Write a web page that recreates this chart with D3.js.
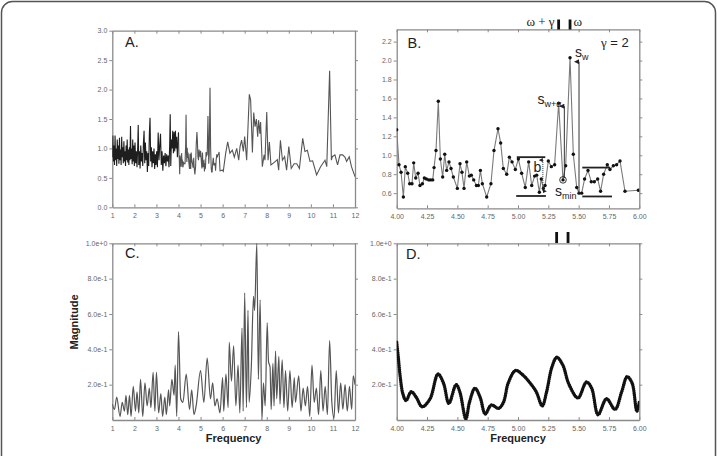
<!DOCTYPE html>
<html><head><meta charset="utf-8">
<script src="https://cdn.jsdelivr.net/npm/d3@7/dist/d3.min.js"></script>
<style>
html,body{margin:0;padding:0;background:#fff;}
svg{display:block;font-family:"Liberation Sans",Arial,sans-serif;}
.tick text{fill:#666;font-size:7px;}
.domain{stroke:#8a8a8a;}
.tick line{stroke:#8a8a8a;}
</style></head>
<body>
<svg id="chart" width="717" height="456"></svg>
<script>
// ---------- DATA ----------
// Panel A, low-frequency part (1-4)
const aLowFreq = [1.000,1.025,1.050,1.075,1.100,1.125,1.150,1.175,1.200,1.225,1.250,1.275,1.300,1.325,1.350,1.375,1.400,1.425,1.450,1.475,1.500,1.525,1.550,1.575,1.600,1.625,1.650,1.675,1.700,1.725,1.750,1.775,1.800,1.825,1.850,1.875,1.900,1.925,1.950,1.975,
 2.000,2.030,2.060,2.090,2.120,2.150,2.175,2.200,2.230,2.260,2.290,2.320,2.350,2.380,2.410,2.440,2.470,2.500,2.530,2.560,2.590,2.620,2.650,2.680,2.710,2.740,2.770,2.800,2.830,2.860,2.890,2.920,2.950,2.980,
 3.010,3.045,3.080,3.115,3.150,3.185,3.220,3.255,3.290,3.325,3.360,3.395,3.430,3.465,3.500,3.535,3.570,3.600,3.625,3.650,3.680,3.710,3.740,3.770,3.800,3.830,3.860,3.890,3.920,3.950,3.975];
const aLowMag = [0.85,1.22,0.78,1.05,0.72,1.22,0.80,1.00,0.70,1.15,0.82,1.05,0.74,1.18,0.80,0.98,0.72,1.20,0.85,1.02,0.75,1.12,0.78,0.95,0.70,1.05,0.80,1.15,0.76,0.98,0.72,1.02,0.80,1.38,0.82,1.00,0.73,1.15,0.78,1.05,
 0.70,1.10,0.75,0.95,0.68,1.00,1.40,0.72,0.95,0.66,1.05,0.78,0.92,0.70,1.08,1.30,0.75,1.10,0.80,0.95,0.60,0.92,0.70,1.25,1.52,0.78,1.02,0.68,0.95,0.75,1.00,0.65,0.90,0.72,
 0.95,0.68,1.27,0.80,1.05,1.25,0.72,0.95,0.62,0.88,0.75,0.92,0.70,0.90,0.78,0.88,0.68,1.05,1.58,0.70,1.15,1.00,1.30,0.92,1.28,0.95,1.30,1.00,1.20,0.85,1.05];
// Panel B (zoom 4-6; also the middle of panel A)
const bFreq = [4.000,4.019,4.036,4.055,4.071,4.091,4.107,4.126,4.140,4.157,4.176,4.192,4.212,4.228,4.245,4.264,4.280,4.297,4.308,4.324,4.343,4.360,4.379,4.396,4.412,4.431,4.448,4.467,4.500,4.522,4.538,4.555,4.577,4.599,4.615,4.635,4.657,4.673,4.690,4.706,4.742,4.777,4.802,4.835,4.857,4.879,4.907,4.929,4.951,4.978,5.003,5.030,5.060,5.088,5.113,5.137,5.154,5.176,5.192,5.209,5.223,5.250,5.275,5.302,5.335,5.371,5.393,5.429,5.456,5.484,5.503,5.525,5.549,5.577,5.604,5.629,5.657,5.681,5.706,5.736,5.758,5.786,5.813,5.841,5.882,5.992];
const bMag = [1.27,0.90,0.82,0.56,0.88,0.81,0.70,0.70,0.92,0.76,0.81,0.68,0.70,0.76,0.75,0.74,0.74,0.74,0.87,1.05,1.57,0.96,0.77,1.01,0.84,0.93,0.86,0.77,0.65,0.91,0.82,0.65,0.93,0.78,0.79,0.74,0.68,0.68,0.84,0.70,0.56,0.70,1.05,1.28,1.13,0.86,0.80,0.98,0.93,0.85,0.96,0.81,0.66,0.93,0.68,0.78,0.79,0.61,0.75,0.65,0.68,0.94,0.88,0.90,1.55,0.74,0.89,2.03,1.01,0.66,0.60,0.60,0.75,0.84,0.72,0.72,0.75,0.62,0.80,0.90,0.85,0.89,0.90,0.94,0.62,0.63];
// Panel A, high-frequency part (6-12)
const aHighFreq = [6.03,6.14,6.23,6.33,6.44,6.53,6.64,6.73,6.79,6.86,6.94,7.00,7.09,7.21,7.27,7.35,7.41,7.47,7.53,7.59,7.63,7.69,7.72,7.80,7.88,7.92,8.00,8.06,8.12,8.19,8.30,8.39,8.48,8.54,8.62,8.71,8.81,8.90,9.00,9.11,9.24,9.36,9.48,9.63,9.73,9.84,9.96,10.08,10.26,10.44,10.64,10.72,10.85,10.93,10.97,11.09,11.21,11.32,11.44,11.55,11.62,11.74,11.84,12.00];
const aHighMag = [0.61,0.92,1.11,0.92,0.97,0.85,1.00,0.80,1.03,1.14,0.95,1.20,0.80,1.92,1.82,0.93,1.61,1.37,1.50,1.20,1.48,1.25,1.45,0.69,0.89,0.80,1.62,0.80,1.11,0.72,0.75,0.78,0.81,0.63,1.14,0.80,0.86,0.63,1.03,0.66,0.74,0.74,0.66,1.17,0.95,0.97,0.78,0.79,0.55,0.69,0.80,0.69,2.32,0.80,0.86,0.89,0.72,0.89,0.89,0.85,0.78,0.86,0.69,0.52];
// Panel C (spectrum 1-12)
const cFreq = [1.00,1.10,1.20,1.35,1.45,1.55,1.62,1.70,1.78,1.85,1.95,2.05,2.12,2.20,2.28,2.38,2.48,2.58,2.68,2.75,2.85,2.93,3.00,3.10,3.20,3.28,3.38,3.45,3.55,3.60,3.70,3.80,3.85,3.92,4.00,4.10,4.20,4.35,4.50,4.60,4.70,4.80,5.00,5.15,5.30,5.45,5.55,5.65,5.75,5.88,6.00,6.05,6.15,6.25,6.30,6.40,6.50,6.60,6.70,6.78,6.88,6.93,7.00,7.08,7.15,7.20,7.30,7.40,7.45,7.55,7.62,7.70,7.78,7.85,7.93,8.02,8.08,8.15,8.20,8.28,8.33,8.40,8.45,8.55,8.60,8.70,8.78,8.85,8.95,9.05,9.15,9.25,9.30,9.45,9.55,9.65,9.75,9.85,9.95,10.05,10.15,10.25,10.35,10.45,10.55,10.65,10.75,10.85,10.95,11.05,11.15,11.25,11.35,11.45,11.55,11.65,11.75,11.85,11.92,12.00];
const cMag = [0.09,0.06,0.13,0.02,0.10,0.05,0.14,0.03,0.14,0.02,0.19,0.05,0.16,0.04,0.23,0.02,0.21,0.08,0.18,0.07,0.27,0.05,0.27,0.04,0.15,0.02,0.13,0.03,0.17,0.08,0.23,0.14,0.31,0.02,0.50,0.12,0.10,0.26,0.06,0.17,0.03,0.08,0.28,0.10,0.35,0.12,0.21,0.08,0.12,0.04,0.24,0.05,0.26,0.07,0.44,0.22,0.42,0.08,0.31,0.04,0.52,0.05,0.72,0.07,0.62,0.10,0.30,0.70,0.62,1.00,0.23,0.68,0.00,0.21,0.08,0.55,0.33,0.30,0.06,0.32,0.08,0.39,0.12,0.36,0.09,0.34,0.07,0.28,0.05,0.28,0.07,0.24,0.10,0.25,0.05,0.18,0.08,0.19,0.02,0.31,0.10,0.18,0.03,0.28,0.05,0.19,0.03,0.45,0.10,0.01,0.28,0.04,0.21,0.06,0.20,0.05,0.19,0.06,0.25,0.20];
// Panel D (spectrum zoom 4-6)
const dFreq = [4.000,4.014,4.030,4.050,4.077,4.120,4.160,4.210,4.275,4.340,4.385,4.430,4.490,4.520,4.570,4.600,4.645,4.687,4.730,4.780,4.840,4.880,4.920,4.980,5.040,5.110,5.150,5.200,5.236,5.280,5.320,5.370,5.415,5.480,5.500,5.565,5.607,5.660,5.730,5.800,5.855,5.900,5.940,5.980,6.000];
const dMag = [0.44,0.35,0.24,0.15,0.11,0.16,0.13,0.075,0.12,0.26,0.21,0.094,0.20,0.16,0.006,0.10,0.18,0.13,0.034,0.085,0.066,0.10,0.21,0.28,0.255,0.20,0.16,0.08,0.16,0.30,0.355,0.31,0.21,0.13,0.126,0.215,0.18,0.03,0.12,0.06,0.16,0.245,0.21,0.05,0.10];
// Ticks
const wideXTicks = [1,2,3,4,5,6,7,8,9,10,11,12];
const zoomXTicks = [4.00,4.25,4.50,4.75,5.00,5.25,5.50,5.75,6.00];
const aYTicks = [0.0,0.5,1.0,1.5,2.0,2.5,3.0];
const bYTicks = [0.6,0.8,1.0,1.2,1.4,1.6,1.8,2.0,2.2];
const cdYTicks = [0.2,0.4,0.6,0.8,1.0];
// Annotation positions (frequency, magnitude)
const markFreqs = [5.335,5.429];           // omega+gamma | omega
const swArrow = [5.503,0.60,2.02];         // freq, from, to
const swaArrow = [5.382,0.76,1.55];
const bArrow = [5.205,0.97,0.60];
const sMinPoint = [5.371,0.74];
const leftBars = [[4.99,5.225,0.98],[4.985,5.23,0.57]];
const rightBars = [[5.53,5.76,0.87],[5.53,5.775,0.565]];

// ---------- DRAW ----------
const svg = d3.select("#chart");
svg.append("rect").attr("x",1.5).attr("y",1.5).attr("width",714).attr("height",480)
  .attr("rx",11).attr("fill","none").attr("stroke","#555").attr("stroke-width",1.5);

const defs = svg.append("defs");
defs.append("marker").attr("id","tri").attr("viewBox","0 0 10 10").attr("refX",5).attr("refY",10)
  .attr("markerWidth",5).attr("markerHeight",6).attr("orient","auto-start-reverse")
  .append("path").attr("d","M0,10 L5,0 L10,10 Z").attr("fill","#222");
defs.append("marker").attr("id","tri2").attr("viewBox","0 0 10 10").attr("refX",5).attr("refY",10)
  .attr("markerWidth",4).attr("markerHeight",4).attr("orient","auto-start-reverse")
  .append("path").attr("d","M0,10 L5,0 L10,10 Z").attr("fill","#222");

let clipId = 0;
function panel(box, xDom, yDom, xTicks, yTicks, xFmt, yFmt){
  const x = d3.scaleLinear().domain(xDom).range([box.x0, box.x1]);
  const y = d3.scaleLinear().domain(yDom).range([box.y1, box.y0]);
  const g = svg.append("g");
  g.append("g").attr("transform",`translate(0,${box.y1})`)
    .call(d3.axisBottom(x).tickValues(xTicks).tickFormat(xFmt).tickSizeInner(-3).tickSizeOuter(0).tickPadding(6));
  g.append("g").attr("transform",`translate(0,${box.y0})`)
    .call(d3.axisTop(x).tickValues(xTicks).tickFormat("").tickSizeInner(-3).tickSizeOuter(0));
  g.append("g").attr("transform",`translate(${box.x0},0)`)
    .call(d3.axisLeft(y).tickValues(yTicks).tickFormat(yFmt).tickSizeInner(3).tickSizeOuter(0).tickPadding(2));
  g.append("g").attr("transform",`translate(${box.x1},0)`)
    .call(d3.axisRight(y).tickValues(yTicks).tickFormat("").tickSizeInner(3).tickSizeOuter(0));
  g.selectAll(".domain").attr("stroke","#8a8a8a").attr("stroke-width",1.3);
  const id = "clip"+(clipId++);
  defs.append("clipPath").attr("id",id).append("rect")
    .attr("x",box.x0).attr("y",box.y0).attr("width",box.x1-box.x0).attr("height",box.y1-box.y0);
  const inner = svg.append("g").attr("clip-path",`url(#${id})`);
  return {x,y,g,inner};
}
const expFmt = d => d.toExponential(1);

// Panel A
const boxA = {x0:112.3,x1:355,y0:30.7,y1:207.3};
const A = panel(boxA,[1,12],[0,3],wideXTicks,aYTicks,d3.format("d"),d3.format(".1f"));
const aLowPts = aLowFreq.map((f,i)=>[f,aLowMag[i]]).concat([[bFreq[0],bMag[0]]]);
const aRestPts = bFreq.map((f,i)=>[f,bMag[i]]).concat(aHighFreq.map((f,i)=>[f,aHighMag[i]]));
const aLine = d3.line().x(d=>A.x(d[0])).y(d=>A.y(d[1]));
A.inner.append("path").datum(aRestPts).attr("fill","none").attr("stroke","#555").attr("stroke-width",1.1).attr("d",aLine);
A.inner.append("path").datum(aLowPts).attr("fill","none").attr("stroke","#1e1e1e").attr("stroke-width",1.1).attr("d",aLine);

// Panel B
const boxB = {x0:396.7,x1:639.3,y0:29.3,y1:208.3};
const B = panel(boxB,[4,6],[0.44,2.33],zoomXTicks,bYTicks,d3.format(".2f"),d3.format(".1f"));
const bPts = bFreq.map((f,i)=>[f,bMag[i]]);
B.inner.append("path").datum(bPts).attr("fill","none").attr("stroke","#7a7a7a").attr("stroke-width",1.1)
  .attr("d",d3.line().x(d=>B.x(d[0])).y(d=>B.y(d[1])));
B.inner.selectAll("circle.pt").data(bPts).join("circle").attr("class","pt")
  .attr("cx",d=>B.x(d[0])).attr("cy",d=>B.y(d[1])).attr("r",1.7).attr("fill","#111");

// Panel C
const boxC = {x0:112.3,x1:355,y0:243.3,y1:420};
const C = panel(boxC,[1,12],[0,1],wideXTicks,cdYTicks,d3.format("d"),expFmt);
const cPts = cFreq.map((f,i)=>[f,cMag[i]]);
C.inner.append("path").datum(cPts).attr("fill","none").attr("stroke","#555").attr("stroke-width",1.2)
  .attr("d",d3.line().curve(d3.curveMonotoneX).x(d=>C.x(d[0])).y(d=>C.y(d[1])));

// Panel D
const boxD = {x0:396.7,x1:639.3,y0:243.3,y1:420};
const D = panel(boxD,[4,6],[0,1],zoomXTicks,cdYTicks,d3.format(".2f"),expFmt);
const dPts = dFreq.map((f,i)=>[f,dMag[i]]);
D.inner.append("path").datum(dPts).attr("fill","none").attr("stroke","#111").attr("stroke-width",3.4)
  .attr("stroke-linecap","round").attr("stroke-dasharray","0.01 2.1")
  .attr("d",d3.line().curve(d3.curveCatmullRom).x(d=>D.x(d[0])).y(d=>D.y(d[1])));

// Panel letters
[[A,"A.",125,47],[B,"B.",407.5,48],[C,"C.",125,258],[D,"D.",406,259]].forEach(([p,t,x,y])=>{
  svg.append("text").attr("x",x).attr("y",y).attr("font-size",14.5).attr("fill","#222").text(t);
});

// gamma = 2
const gtxt = svg.append("text").attr("x",601).attr("y",47).attr("font-size",13).attr("fill","#222");
gtxt.append("tspan").attr("font-family","'Liberation Serif',serif").text("γ");
gtxt.append("tspan").text(" = 2");

// omega + gamma markers above B and D
svg.append("text").attr("x",B.x(markFreqs[0])-4).attr("y",25.5).attr("text-anchor","end")
  .attr("font-family","'Liberation Serif',serif").attr("font-size",13).attr("fill","#222").text("ω + γ");
svg.append("text").attr("x",B.x(markFreqs[1])+3.5).attr("y",25.5)
  .attr("font-family","'Liberation Serif',serif").attr("font-size",13).attr("fill","#222").text("ω");
markFreqs.forEach(f=>{
  svg.append("rect").attr("x",B.x(f)-1.4).attr("y",19.5).attr("width",2.8).attr("height",10).attr("fill","#111");
  svg.append("rect").attr("x",D.x(f)-3.4).attr("y",232).attr("width",2.8).attr("height",11).attr("fill","#111");
});

// B annotations
const ann = svg.append("g");
ann.append("line").attr("x1",B.x(swArrow[0])).attr("x2",B.x(swArrow[0]))
  .attr("y1",B.y(swArrow[1])).attr("y2",B.y(swArrow[2])+3).attr("stroke","#333").attr("stroke-width",1)
  .attr("marker-end","url(#tri)");
ann.append("line").attr("x1",B.x(swaArrow[0])).attr("x2",B.x(swaArrow[0]))
  .attr("y1",B.y(swaArrow[1])).attr("y2",B.y(swaArrow[2])+3).attr("stroke","#333").attr("stroke-width",1)
  .attr("marker-end","url(#tri)");
ann.append("line").attr("x1",B.x(bArrow[0])).attr("x2",B.x(bArrow[0]))
  .attr("y1",B.y(bArrow[1])+2).attr("y2",B.y(bArrow[2])-2).attr("stroke","#333").attr("stroke-width",1)
  .attr("stroke-dasharray","1 1").attr("marker-start","url(#tri2)").attr("marker-end","url(#tri2)");
leftBars.concat(rightBars).forEach(b=>{
  ann.append("line").attr("x1",B.x(b[0])).attr("x2",B.x(b[1])).attr("y1",B.y(b[2])).attr("y2",B.y(b[2]))
    .attr("stroke","#222").attr("stroke-width",1.8);
});
ann.append("circle").attr("cx",B.x(sMinPoint[0])).attr("cy",B.y(sMinPoint[1])).attr("r",3.3)
  .attr("fill","none").attr("stroke","#222").attr("stroke-width",0.9);
function subLabel(x,y,main,sub){
  const t = ann.append("text").attr("x",x).attr("y",y).attr("font-size",14).attr("fill","#222");
  t.append("tspan").text(main);
  t.append("tspan").attr("font-size",9).attr("dy",3).text(sub);
}
subLabel(575,57,"s","w");
subLabel(537.5,104,"s","w+α");
subLabel(555,196,"s","min");
ann.append("text").attr("x",533.5).attr("y",172).attr("font-size",14).attr("fill","#222").text("b");

// Axis titles
svg.append("text").attr("transform","translate(78,322) rotate(-90)").attr("text-anchor","middle")
  .attr("font-size",11).attr("font-weight","bold").attr("fill","#222").text("Magnitude");
svg.append("text").attr("x",(boxC.x0+boxC.x1)/2).attr("y",442).attr("text-anchor","middle")
  .attr("font-size",11).attr("font-weight","bold").attr("fill","#222").text("Frequency");
svg.append("text").attr("x",(boxD.x0+boxD.x1)/2).attr("y",442).attr("text-anchor","middle")
  .attr("font-size",11).attr("font-weight","bold").attr("fill","#222").text("Frequency");
</script>
</body></html>
